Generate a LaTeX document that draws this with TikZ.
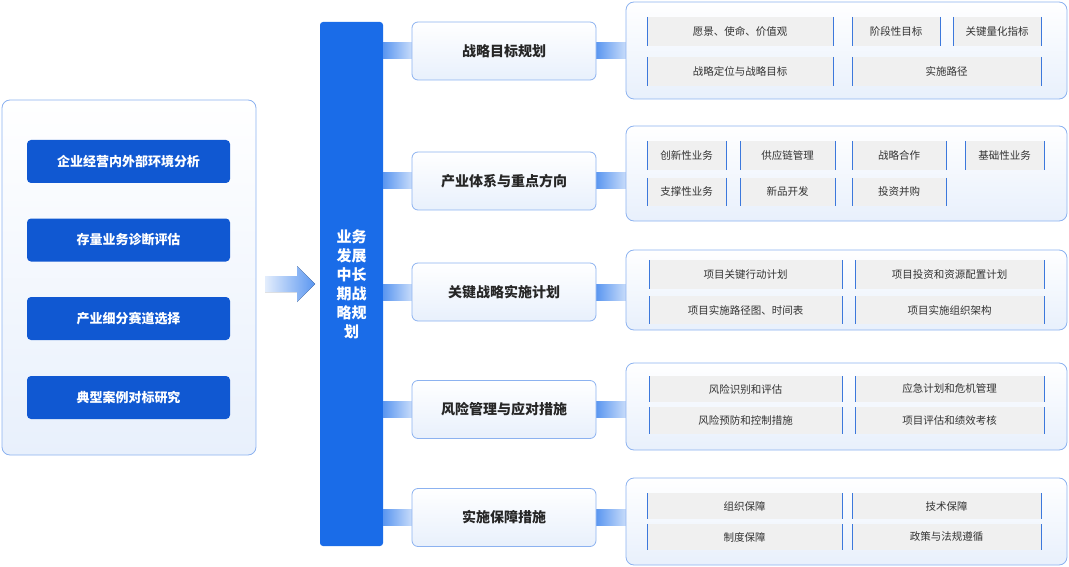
\documentclass[tikz,border=0pt]{standalone}
\usepackage{fontspec}
\setmainfont{Noto Sans CJK SC}
\definecolor{btn}{RGB}{16,88,210}
\definecolor{bar}{RGB}{26,108,232}
\definecolor{bd}{RGB}{140,178,240}
\definecolor{pbot}{RGB}{232,240,252}
\definecolor{ibd}{RGB}{60,120,220}
\definecolor{lk}{RGB}{90,150,240}
\definecolor{lk2}{RGB}{200,220,250}
\begin{document}
\begin{tikzpicture}[x=1pt,y=-1pt,
 panel/.style={draw=bd,line width=0.8pt,rounded corners=8pt,top color=white,bottom color=pbot,minimum width=#1},
 lbtn/.style={fill=btn,rounded corners=4pt,text=white,font=\bfseries\fontsize{13}{15}\selectfont,minimum width=203pt,minimum height=43pt},
 head/.style={draw=bd,line width=0.8pt,rounded corners=6pt,top color=white,bottom color=pbot,text=black!85,font=\bfseries\fontsize{14}{16}\selectfont,minimum width=184pt,minimum height=58pt},
 item/.style={fill=black!6,text=black!80,font=\fontsize{10.5}{12}\selectfont,inner sep=0pt},
 link/.style={left color=lk,right color=lk2,draw=none}]
\useasboundingbox (0,0) rectangle (1069,567);
\node[panel=254pt,minimum height=355pt] (lp) at (129,277.5) {};
\node[lbtn] (l1) at (128.5,161.5) {企业经营内外部环境分析};
\node[lbtn] (l2) at (128.5,240) {存量业务诊断评估};
\node[lbtn] (l3) at (128.5,318.5) {产业细分赛道选择};
\node[lbtn] (l4) at (128.5,397.5) {典型案例对标研究};
\fill[left color=lk2!50,right color=lk] (265,276)--(297,276)--(297,266)--(315,284)--(297,302)--(297,292)--(265,292)--cycle;
\node[fill=bar,rounded corners=3pt,minimum width=63pt,minimum height=524pt,text=white,align=center,font=\bfseries\fontsize{15}{19}\selectfont] (cb) at (351.5,284) {业务\\发展\\中长\\期战\\略规\\划};
\foreach \n/\t/\yc/\pt/\pb in {1/战略目标规划/51/2/99, 2/产业体系与重点方向/181/126/221, 3/关键战略实施计划/292/250/330, 4/风险管理与应对措施/409.5/363/450, 5/实施保障措施/517.5/478/565}{
  \fill[link] (383,\yc-8) rectangle (412,\yc+8);
  \fill[link] (596,\yc-8) rectangle (626,\yc+8);
  \node[head] (h\n) at (504,\yc) {\t};
  \draw[draw=bd,line width=0.8pt,rounded corners=8pt,top color=white,bottom color=pbot] (626,\pt) rectangle (1067,\pb);
}
\newcommand\itm[5]{\node[item,minimum width=#3-#1,minimum height=#4-#2] at ({(#1+#3)/2},{(#2+#4)/2}) {#5};
 \draw[ibd,line width=1pt] (#1,#2)--(#1,#4) (#3,#2)--(#3,#4);}
\itm{647}{17}{833}{46}{愿景、使命、价值观}
\itm{852}{17}{940}{46}{阶段性目标}
\itm{953}{17}{1041}{46}{关键量化指标}
\itm{647}{57}{833}{86}{战略定位与战略目标}
\itm{852}{57}{1041}{86}{实施路径}
\itm{647}{141}{726}{170}{创新性业务}
\itm{740}{141}{835}{170}{供应链管理}
\itm{852}{141}{946}{170}{战略合作}
\itm{965}{141}{1044}{170}{基础性业务}
\itm{647}{178}{726}{206}{支撑性业务}
\itm{740}{178}{835}{206}{新品开发}
\itm{852}{178}{946}{206}{投资并购}
\itm{649}{260}{842}{289}{项目关键行动计划}
\itm{855}{260}{1044}{289}{项目投资和资源配置计划}
\itm{649}{296}{842}{324}{项目实施路径图、时间表}
\itm{855}{296}{1044}{324}{项目实施组织架构}
\itm{649}{376}{842}{402}{风险识别和评估}
\itm{855}{376}{1044}{402}{应急计划和危机管理}
\itm{649}{407}{842}{434}{风险预防和控制措施}
\itm{855}{407}{1044}{434}{项目评估和绩效考核}
\itm{647}{493}{842}{519}{组织保障}
\itm{852}{493}{1041}{519}{技术保障}
\itm{647}{524}{842}{550}{制度保障}
\itm{852}{524}{1041}{550}{政策与法规遵循}
\end{tikzpicture}
\end{document}
